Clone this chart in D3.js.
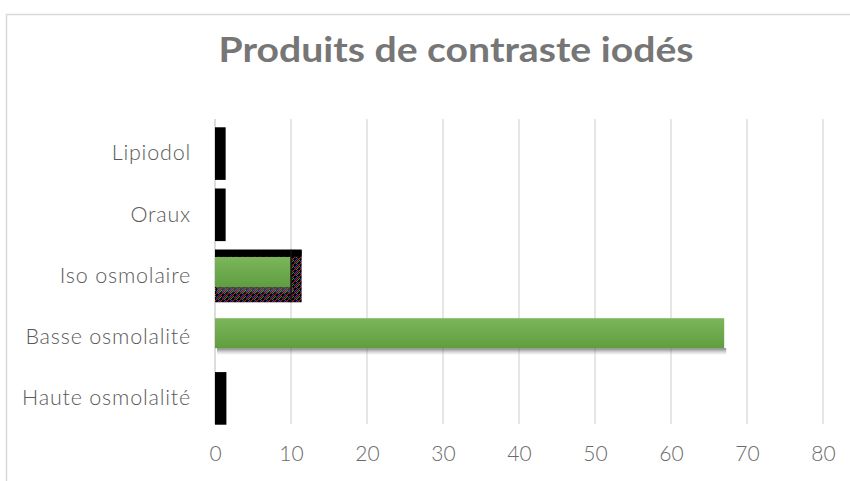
<!DOCTYPE html>
<html>
<head>
<meta charset="utf-8">
<script src="https://cdn.jsdelivr.net/npm/d3@7"></script>
<style>
  html, body { margin: 0; padding: 0; background: #fff; }
  svg { display: block; }
  text { font-family: Lato, "Open Sans", "Liberation Sans", sans-serif; }
</style>
</head>
<body>
<svg id="chart" width="850" height="481"></svg>
<script>
// Categories, listed from top to bottom
const categories = ["Lipiodol", "Oraux", "Iso osmolaire", "Basse osmolalité", "Haute osmolalité"];
// Wide dark series
const seriesDark = [1.4, 1.4, 11.4, null, 1.5];
// Narrow green series
const seriesGreen = [null, null, 10, 67, null];
// Axis ticks
const tickValues = [0, 10, 20, 30, 40, 50, 60, 70, 80];
const titleText = "Produits de contraste iodés";

const svg = d3.select("#chart");
const defs = svg.append("defs");

// Green bar gradient (lighter top, darker bottom)
const gg = defs.append("linearGradient").attr("id", "greenGrad")
  .attr("x1", 0).attr("y1", 0).attr("x2", 0).attr("y2", 1);
gg.append("stop").attr("offset", "0%").attr("stop-color", "#7cb65a");
gg.append("stop").attr("offset", "100%").attr("stop-color", "#5f9e40");

// Soft shadow under the green bars
const sh = defs.append("linearGradient").attr("id", "shadowGrad")
  .attr("x1", 0).attr("y1", 0).attr("x2", 0).attr("y2", 1);
sh.append("stop").attr("offset", "0%").attr("stop-color", "#555").attr("stop-opacity", 0.75);
sh.append("stop").attr("offset", "100%").attr("stop-color", "#aaa").attr("stop-opacity", 0);

// Colour-fringed diagonal hatch on black
const pat = defs.append("pattern").attr("id", "hatch")
  .attr("patternUnits", "userSpaceOnUse").attr("width", 6).attr("height", 6);
pat.append("rect").attr("width", 6).attr("height", 6).attr("fill", "#050505");
pat.append("path").attr("d", "M-1,7 L7,-1").attr("stroke", "#a82838").attr("stroke-width", 1.1);
pat.append("path").attr("d", "M1,7 L7,1").attr("stroke", "#2a9a3a").attr("stroke-width", 0.9);
pat.append("path").attr("d", "M-1,5 L5,-1").attr("stroke", "#3038c8").attr("stroke-width", 0.9);

// Chart frame
svg.append("rect")
  .attr("x", 6.5).attr("y", 14.5).attr("width", 900).attr("height", 500)
  .attr("fill", "#fff").attr("stroke", "#d9d9d9").attr("stroke-width", 1.5);

// Scales
const x = d3.scaleLinear().domain([0, 80]).range([215, 823]);
const y = d3.scaleBand().domain(categories).range([123, 429]).paddingInner(0).paddingOuter(0);
const gridTop = 119, gridBottom = 424;

// Gridlines
svg.append("g").selectAll("line").data(tickValues).join("line")
  .attr("x1", d => x(d)).attr("x2", d => x(d))
  .attr("y1", gridTop).attr("y2", gridBottom)
  .attr("stroke", "#d9d9d9").attr("stroke-width", 1.3);

// X tick labels
const xAxis = d3.axisBottom(x).tickValues(tickValues).tickSize(0).tickPadding(0).tickFormat(d3.format("d"));
const gx = svg.append("g").attr("transform", "translate(0,445)").call(xAxis);
gx.select(".domain").remove();
gx.selectAll("text")
  .attr("fill", "#6a6a6a").attr("font-size", 21).attr("font-weight", 300).attr("dy", "0.75em");

// Category labels
const yAxis = d3.axisLeft(y).tickSize(0).tickPadding(24);
const gy = svg.append("g").attr("transform", `translate(${x(0)},0)`).call(yAxis);
gy.select(".domain").attr("stroke", "#d9d9d9").attr("stroke-width", 1.5)
  .attr("d", `M0,${gridTop}V${gridBottom}`);
gy.selectAll("text").attr("fill", "#5a5a5a").attr("font-size", 21.5).attr("font-weight", 300)
  .attr("letter-spacing", 0.8);

const bw = y.bandwidth();
const darkH = bw * 0.86;
const greenH = 30;

// Dark bars
const darkData = categories.map((c, i) => ({ c, v: seriesDark[i] })).filter(d => d.v != null);
svg.append("g").selectAll("rect").data(darkData).join("rect")
  .attr("x", x(0)).attr("y", d => y(d.c) + (bw - darkH) / 2)
  .attr("width", d => x(d.v) - x(0)).attr("height", darkH)
  .attr("fill", d => d.c === "Iso osmolaire" ? "url(#hatch)" : "#000");

// Solid top strip on the hatched bar
const isoIdx = categories.indexOf("Iso osmolaire");
svg.append("rect")
  .attr("x", x(0)).attr("y", y(categories[isoIdx]) + (bw - darkH) / 2)
  .attr("width", x(seriesDark[isoIdx]) - x(0)).attr("height", 7)
  .attr("fill", "#000");

// Green bars with shadow
const greenData = categories.map((c, i) => ({ c, v: seriesGreen[i] })).filter(d => d.v != null);
const gGreen = svg.append("g");
gGreen.selectAll("rect.shadow").data(greenData).join("rect").attr("class", "shadow")
  .attr("x", x(0) + 2).attr("y", d => y(d.c) + bw / 2 - 4 + greenH / 2)
  .attr("width", d => x(d.v) - x(0)).attr("height", 7)
  .attr("fill", "url(#shadowGrad)");
gGreen.selectAll("rect.bar").data(greenData).join("rect").attr("class", "bar")
  .attr("x", x(0)).attr("y", d => y(d.c) + bw / 2 - 4 - greenH / 2)
  .attr("width", d => x(d.v) - x(0)).attr("height", greenH)
  .attr("fill", "url(#greenGrad)");

// Dark edge at the end of the green bar inside the hatched bar
svg.append("line")
  .attr("x1", x(seriesGreen[isoIdx])).attr("x2", x(seriesGreen[isoIdx]))
  .attr("y1", y(categories[isoIdx]) + (bw - darkH) / 2)
  .attr("y2", y(categories[isoIdx]) + (bw + darkH) / 2)
  .attr("stroke", "#111").attr("stroke-width", 1.5);

// Title
svg.append("text")
  .attr("x", 456).attr("y", 62).attr("text-anchor", "middle")
  .attr("font-size", 34).attr("font-weight", 700).attr("fill", "#767676")
  .attr("textLength", 475).attr("lengthAdjust", "spacingAndGlyphs")
  .text(titleText);
</script>
</body>
</html>
